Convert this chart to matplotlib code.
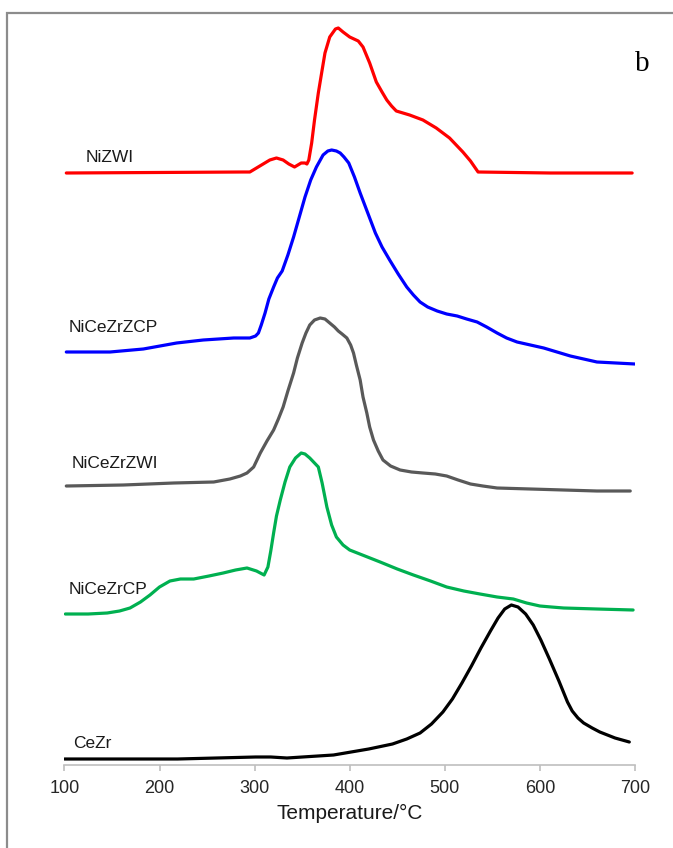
import matplotlib
matplotlib.use("Agg")
import matplotlib.pyplot as plt
from matplotlib.patches import Rectangle

# TPR profiles (temperature in °C, H2 consumption signal in arbitrary units, stacked)
t_nizwi = [102, 288, 295, 302, 309, 316, 323, 330, 336, 342, 349, 353, 355, 357, 360,
           363, 367, 371, 374, 379, 385, 388, 393, 400, 409, 414, 421, 428, 434, 439,
           444, 449, 456, 463, 477, 491, 505, 519, 527, 535, 611, 697]
s_nizwi = [592, 593, 593, 597, 601, 605, 607, 605, 601, 598, 602, 602, 601, 605, 622,
           645, 672, 695, 712, 728, 736, 737, 733, 728, 724, 718, 702, 683, 673, 665,
           659, 654, 652, 650, 645, 637, 627, 613, 604, 593, 592, 592]

t_niceczrzcp = [102, 148, 183, 218, 246, 278, 295, 301, 304, 307, 311, 315, 320, 324,
                329, 335, 341, 347, 353, 359, 365, 372, 377, 381, 386, 390, 394, 399,
                405, 411, 419, 427, 434, 442, 451, 460, 467, 474, 482, 492, 502, 513,
                523, 534, 544, 555, 565, 576, 590, 604, 618, 632, 646, 660, 680, 700]
s_niceczrzcp = [413, 413, 416, 422, 425, 427, 427, 429, 432, 440, 452, 466, 478, 487,
                494, 510, 528, 548, 568, 585, 598, 610, 614, 615, 614, 612, 608, 602,
                588, 572, 552, 532, 518, 505, 491, 478, 470, 463, 458, 454, 451, 449,
                446, 443, 438, 432, 427, 423, 420, 417, 413, 409, 406, 403, 402, 401]

t_niceczrzwi = [102, 162, 215, 257, 274, 285, 292, 299, 306, 313, 320, 325, 330, 335,
                341, 345, 350, 354, 358, 363, 369, 374, 379, 384, 388, 392, 397, 401,
                404, 407, 411, 414, 418, 421, 425, 430, 435, 443, 453, 465, 477, 490,
                502, 514, 527, 540, 555, 590, 625, 660, 695]
s_niceczrzwi = [279, 280, 282, 283, 286, 289, 292, 298, 312, 324, 335, 346, 358, 374,
                392, 407, 422, 432, 440, 445, 447, 446, 442, 438, 434, 431, 427, 420,
                412, 400, 385, 368, 352, 338, 325, 314, 305, 299, 295, 293, 292, 291,
                289, 285, 281, 279, 277, 276, 275, 274, 274]

t_niceczrcp = [101, 125, 145, 158, 169, 180, 190, 200, 211, 222, 236, 252, 267, 280,
               292, 302, 310, 314, 317, 320, 323, 327, 332, 337, 343, 349, 353, 358,
               362, 367, 371, 376, 381, 386, 393, 400, 416, 432, 450, 467, 485, 502,
               520, 537, 555, 572, 586, 600, 612, 625, 660, 698]
s_niceczrcp = [151, 151, 152, 154, 157, 163, 170, 178, 184, 186, 186, 189, 192, 195,
               197, 194, 190, 198, 214, 232, 249, 265, 283, 298, 307, 312, 311, 307,
               303, 298, 282, 258, 240, 228, 220, 215, 209, 203, 196, 190, 184, 178,
               174, 171, 168, 166, 162, 159, 158, 157, 156, 155]

t_cezr = [100, 160, 219, 260, 301, 317, 334, 383, 420, 445, 460, 474, 486, 498, 508,
          518, 528, 538, 548, 556, 563, 570, 577, 585, 593, 601, 610, 620, 629, 634,
          640, 646, 655, 663, 679, 694]
s_cezr = [6, 6, 6, 7, 8, 8, 7, 10, 16, 21, 26, 32, 41, 53, 66, 82, 99, 117, 134, 147,
          156, 160, 158, 151, 140, 125, 106, 84, 63, 54, 47, 42, 37, 33, 27, 23]

series = [
    ("NiZWI", t_nizwi, s_nizwi, "#ff0000", (122, 608)),
    ("NiCeZrZCP", t_niceczrzcp, s_niceczrzcp, "#0000ff", (104, 438)),
    ("NiCeZrZWI", t_niceczrzwi, s_niceczrzwi, "#595959", (108, 302)),
    ("NiCeZrCP", t_niceczrcp, s_niceczrcp, "#00b050", (104, 175)),
    ("CeZr", t_cezr, s_cezr, "#000000", (109, 22)),
]

x_ticks = [100, 200, 300, 400, 500, 600, 700]

plt.rcParams["font.family"] = ["Liberation Sans", "DejaVu Sans"]

W, H = 673, 848
fig = plt.figure(figsize=(W / 100, H / 100), dpi=100)
fig.patch.set_facecolor("white")

# outer frame of the panel
fig.patches.append(Rectangle((7 / W, -0.02), 1.05, 1 - 13 / H + 0.02,
                             transform=fig.transFigure, fill=False,
                             edgecolor="#8c8c8c", linewidth=1.6))

ax = fig.add_axes([64.4 / W, 83 / H, 570.6 / W, 750 / H])
ax.set_facecolor("none")

for name, t, s, color, (lx, ly) in series:
    ax.plot(t, s, color=color, linewidth=2.3, solid_joinstyle="round",
            solid_capstyle="round")
    ax.text(lx, ly, name, fontsize=12.5, color="#1a1a1a", ha="left", va="center")

ax.set_xlim(100, 700)
ax.set_ylim(0, 750)
ax.set_xticks(x_ticks)
ax.set_xticklabels([str(v) for v in x_ticks], fontsize=13, color="#262626")
ax.set_yticks([])
for side in ("left", "top", "right"):
    ax.spines[side].set_visible(False)
ax.spines["bottom"].set_color("#bfbfbf")
ax.spines["bottom"].set_linewidth(1.2)
ax.tick_params(axis="x", direction="out", length=4, width=1.2, color="#bfbfbf", pad=7)
ax.set_xlabel("Temperature/°C", fontsize=15, color="#1a1a1a", labelpad=5)

fig.text(642.5 / W, 1 - 64 / H, "b", fontsize=21, ha="center", va="center",
         family=["Liberation Serif", "DejaVu Serif"], color="black")

fig.savefig("out.png", dpi=100)
